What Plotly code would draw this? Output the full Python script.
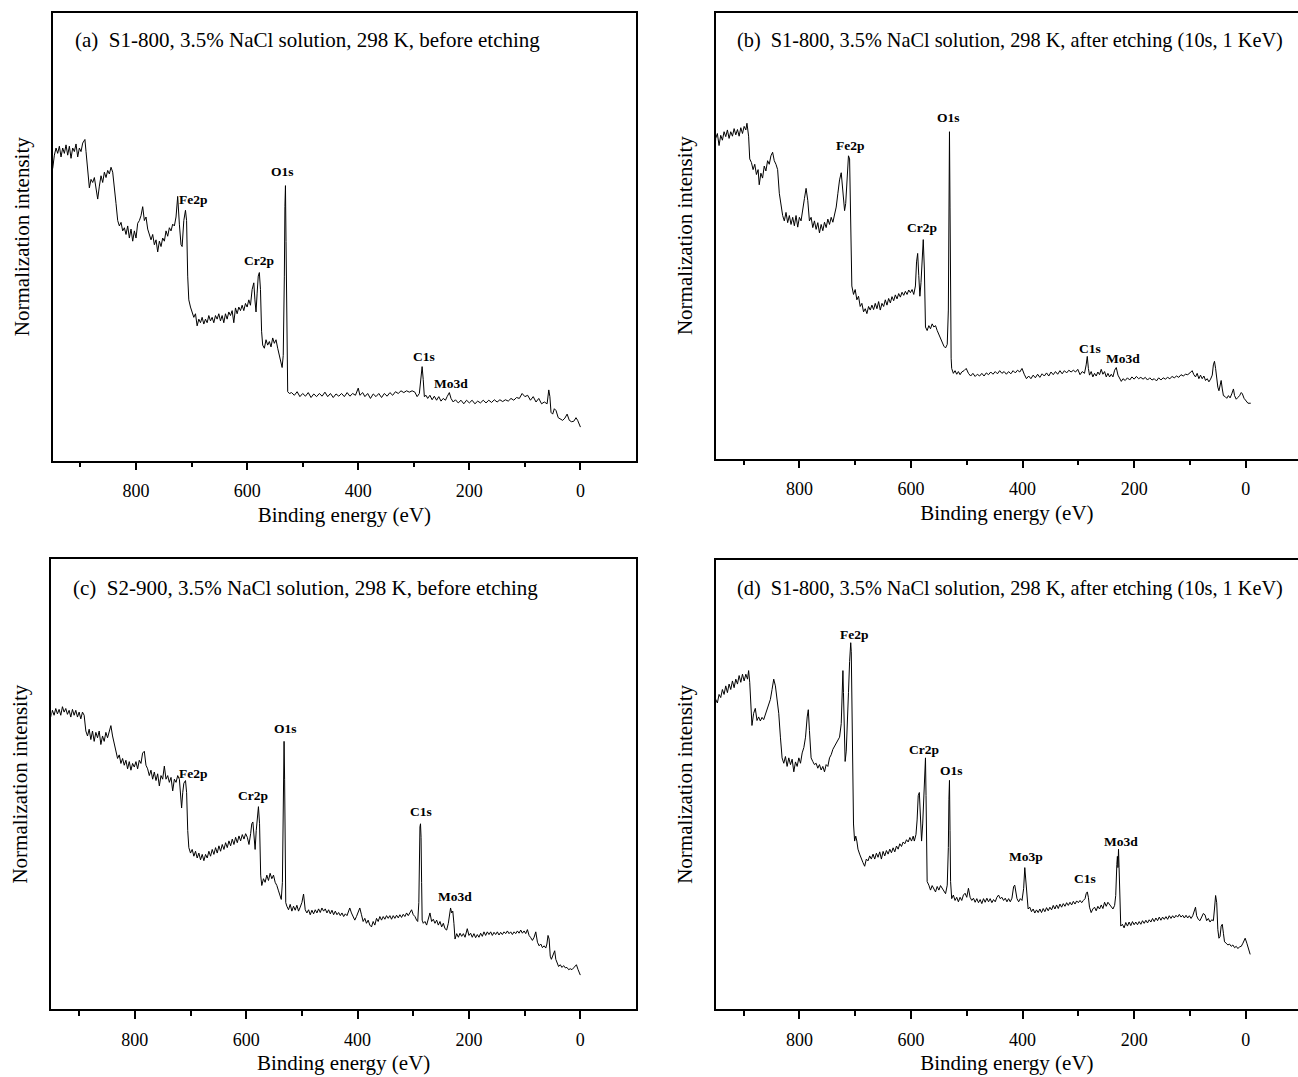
import plotly.graph_objects as go

# ---------------- data (binding energy eV, normalized intensity 0-100 of frame) ----------------
spec_a = [
(950,65.2),(947,68.2),(944,69.8),(941,68.6),(938,70.2),(935,67.8),(932,69.8),(929,68.6),(926,70.5),(923,68.2),
(920,70.2),(917,67.5),(914,69.8),(911,69.0),(908,70.7),(905,67.8),(902,69.8),(899,69.0),(896,70.9),(892,71.7),
(890,69.0),(887,64.4),(884,60.9),(881,62.8),(878,62.1),(875,63.2),(872,60.9),(869,58.4),(866,61.3),(863,63.6),
(860,62.1),(857,64.4),(854,63.2),(851,64.8),(848,64.0),(845,65.5),(842,64.4),(839,61.3),(836,57.4),(833,53.6),
(830,52.4),(827,53.2),(824,51.3),(821,52.0),(818,50.5),(815,52.4),(812,49.7),(809,51.7),(806,49.0),(803,51.3),
(800,49.7),(797,53.0),(794,53.6),(791,54.7),(788,56.7),(785,53.6),(782,54.4),(779,51.7),(776,50.5),(773,49.3),
(770,50.5),(767,48.2),(764,49.3),(761,46.6),(758,49.0),(755,47.8),(752,49.7),(749,49.0),(746,51.3),(743,50.1),
(740,52.0),(737,51.3),(734,52.8),(731,52.4),(728,54.4),(725,59.0),(722,52.8),(719,48.2),(717,47.8),(714,53.6),
(711,55.9),(709,53.6),(707,41.2),(705,35.9),(702,34.3),(699,33.2),(696,32.0),(693,32.8),(690,30.1),(687,31.6),
(684,30.8),(681,32.0),(678,30.5),(675,31.6),(672,30.8),(669,32.4),(666,31.2),(663,32.0),(660,30.8),(657,32.4),
(654,31.6),(651,32.8),(648,31.2),(645,32.4),(642,30.8),(639,32.8),(636,31.6),(633,33.2),(630,32.4),(627,33.5),
(624,30.8),(621,34.1),(618,32.8),(615,34.3),(612,33.5),(609,34.7),(606,33.5),(603,35.1),(600,34.3),(597,35.9),
(594,34.7),(591,38.2),(588,39.7),(586,35.9),(584,33.2),(582,37.4),(580,41.2),(578,42.0),(576,38.2),(574,28.9),
(572,25.8),(569,25.1),(566,27.0),(563,25.8),(560,26.6),(557,25.4),(554,27.4),(551,26.2),(548,27.0),(545,25.1),
(542,23.5),(539,22.0),(537,20.8),(535,23.5),(534,28.9),(533,41.2),(532,56.7),(531,61.4),(530,48.9),(529,33.5),
(528,19.7),(527,15.4),(524,15.0),(520,15.2),(515,14.6),(510,15.4),(505,14.3),(500,15.0),(495,14.4),(490,15.2),
(485,14.1),(480,14.9),(475,14.3),(470,15.0),(465,14.4),(460,15.3),(455,14.3),(450,15.0),(445,14.1),(440,14.9),
(435,14.4),(430,15.0),(425,14.3),(420,15.2),(415,14.4),(410,15.0),(405,14.6),(400,16.2),(397,14.6),(392,15.2),
(388,14.3),(383,15.0),(378,13.9),(373,14.9),(368,14.3),(363,15.0),(358,14.1),(353,15.0),(348,14.4),(343,15.2),
(338,14.6),(333,15.4),(328,15.0),(323,15.6),(318,15.2),(313,15.6),(308,15.3),(303,15.6),(298,15.3),(294,14.3),
(290,15.0),(287,18.9),(285,21.0),(283,18.1),(281,14.3),(278,14.6),(275,13.9),(271,14.6),(267,13.6),(263,14.4),
(259,13.5),(255,14.3),(251,13.3),(247,13.9),(243,13.5),(240,14.3),(236,15.2),(233,13.9),(229,13.1),(225,13.6),
(220,12.9),(215,13.5),(210,12.7),(205,13.5),(200,12.9),(195,13.5),(190,12.7),(185,13.3),(180,12.9),(175,13.5),
(170,12.9),(165,13.5),(160,13.0),(155,13.6),(150,13.1),(145,13.6),(140,13.2),(135,13.6),(130,13.3),(125,13.9),
(120,13.5),(115,14.1),(110,13.9),(105,15.0),(100,14.3),(95,14.6),(90,13.5),(85,14.3),(80,13.1),(75,13.9),
(70,12.7),(65,13.1),(60,12.7),(57,15.8),(55,14.3),(53,10.8),(50,10.4),(47,11.6),(44,11.2),(40,9.6),
(36,9.3),(32,9.0),(28,9.5),(24,10.4),(20,9.0),(16,8.7),(12,8.8),(8,9.6),(5,9.0),(2,8.1),(0,7.5),
]

spec_b = [
(952,67.5),(950,71.8),(947,72.9),(944,70.2),(941,72.5),(938,71.4),(935,73.3),(932,72.2),(929,73.7),(926,71.8),
(923,73.3),(920,72.3),(917,74.0),(914,72.6),(911,73.8),(908,72.3),(905,74.2),(902,72.9),(899,74.5),(896,73.7),
(894,75.2),(891,72.3),(889,67.2),(886,66.4),(883,64.8),(880,66.0),(877,63.7),(874,64.8),(872,61.4),(869,64.0),
(866,62.9),(863,65.6),(860,64.5),(857,66.8),(854,66.0),(851,67.9),(848,68.7),(845,66.8),(842,66.0),(839,64.8),
(836,59.5),(833,56.4),(830,54.5),(827,53.3),(824,55.2),(821,52.9),(818,54.5),(815,52.5),(812,54.1),(809,52.2),
(806,54.5),(803,51.9),(800,54.1),(797,53.3),(794,56.4),(791,58.3),(788,60.6),(785,57.9),(782,53.3),(779,54.1),
(776,51.8),(773,53.3),(770,51.4),(767,52.9),(764,50.6),(761,52.5),(758,51.1),(755,53.0),(752,51.8),(749,53.7),
(746,52.5),(743,54.1),(740,53.0),(737,54.8),(734,56.4),(731,59.5),(728,62.5),(725,64.1),(722,59.5),(719,55.6),
(717,57.2),(714,62.5),(712,67.9),(710,67.2),(708,56.4),(706,38.7),(703,36.8),(700,37.9),(697,35.6),(694,36.4),
(691,34.1),(688,34.8),(685,32.9),(682,33.6),(679,32.5),(676,34.1),(673,33.3),(670,34.4),(667,33.4),(664,34.8),
(661,33.6),(658,35.2),(655,33.3),(652,34.8),(649,34.1),(646,35.6),(643,34.4),(640,35.9),(637,34.9),(634,36.3),
(631,35.4),(628,36.7),(625,35.8),(622,37.0),(619,36.2),(616,37.3),(613,36.6),(610,37.5),(607,36.8),(604,37.8),
(601,37.2),(598,37.9),(595,36.8),(592,38.7),(590,44.1),(588,46.0),(586,41.0),(584,36.4),(582,39.5),(580,45.6),
(578,49.1),(576,42.5),(574,29.5),(571,28.7),(568,29.8),(565,29.1),(562,30.2),(559,29.5),(556,29.8),(553,28.7),
(550,27.9),(547,26.8),(544,26.0),(541,25.2),(538,24.8),(535,25.6),(533,33.3),(532,56.4),(531,73.3),(530,56.4),
(529,33.3),(528,22.5),(527,20.2),(524,19.1),(521,19.7),(518,18.9),(515,19.5),(512,18.8),(509,19.4),(505,19.7),
(501,20.2),(497,19.1),(493,18.5),(489,19.1),(485,18.4),(481,18.9),(477,18.5),(473,19.1),(469,18.5),(465,19.2),
(461,18.8),(457,19.4),(453,18.9),(449,19.5),(445,19.0),(441,19.7),(437,19.1),(433,19.5),(429,18.9),(425,19.5),
(421,19.0),(417,19.7),(413,19.2),(409,19.8),(405,19.4),(401,20.2),(397,18.9),(393,17.9),(389,18.5),(385,17.9),
(381,18.7),(377,18.1),(373,18.9),(369,18.2),(365,19.0),(361,18.5),(357,19.2),(353,18.5),(349,19.4),(345,18.8),
(341,19.5),(337,18.9),(333,19.7),(329,19.0),(325,19.7),(321,19.2),(317,19.8),(313,19.4),(309,19.8),(305,19.4),
(301,20.0),(297,18.8),(293,19.5),(289,19.1),(286,21.0),(284,22.9),(282,20.2),(280,18.7),(277,19.5),(274,18.3),
(271,19.1),(268,18.5),(265,19.4),(262,18.8),(259,20.0),(256,18.9),(253,19.5),(250,18.3),(247,19.1),(244,18.3),
(241,18.9),(238,18.3),(235,19.8),(232,20.4),(229,18.7),(226,17.9),(223,17.3),(220,17.9),(216,17.5),(212,18.1),
(208,17.6),(204,18.3),(200,17.8),(196,18.4),(192,17.9),(188,18.2),(184,17.8),(180,18.2),(176,17.6),(172,18.1),
(168,17.6),(164,17.9),(160,17.4),(156,18.1),(152,17.6),(148,18.1),(144,17.8),(140,18.2),(136,17.9),(132,18.4),
(128,18.1),(124,18.5),(120,18.2),(116,18.8),(112,18.5),(108,18.9),(104,18.8),(100,19.2),(96,19.7),(93,18.8),
(90,18.3),(87,19.1),(84,17.9),(81,18.7),(78,17.9),(75,18.5),(72,17.5),(69,17.9),(66,17.2),(63,17.8),
(60,18.7),(58,21.0),(56,21.8),(54,20.2),(52,17.9),(50,16.0),(48,15.2),(46,16.8),(44,17.5),(42,15.6),
(40,14.1),(37,13.9),(34,13.5),(31,14.1),(28,13.6),(25,14.5),(22,15.6),(20,14.1),(17,13.3),(14,13.7),
(11,14.1),(8,14.8),(6,14.5),(3,13.5),(0,12.9),(-4,12.4),(-9,12.4),
]

spec_c = [
(951,64.9),(948,66.4),(945,65.3),(942,66.8),(939,65.6),(936,66.6),(933,65.3),(930,67.2),(927,66.0),(924,66.8),
(921,65.5),(918,66.4),(915,64.9),(912,66.6),(909,65.3),(906,66.4),(903,64.9),(900,66.0),(897,64.5),(894,66.0),
(891,65.3),(888,61.8),(885,60.7),(882,62.2),(879,59.9),(876,61.8),(873,59.5),(870,61.5),(867,60.3),(864,61.8),
(861,58.8),(858,60.7),(855,59.5),(852,61.5),(849,60.3),(846,61.8),(843,63.0),(840,60.7),(837,58.8),(834,56.9),
(831,55.7),(828,56.5),(825,54.6),(822,55.7),(819,54.2),(816,55.3),(813,53.4),(810,55.0),(807,53.1),(804,54.6),
(801,53.8),(798,55.0),(795,53.4),(792,55.3),(789,54.6),(786,56.9),(783,57.3),(780,54.2),(777,53.4),(774,51.9),
(771,53.1),(768,51.1),(765,52.7),(762,50.8),(759,52.3),(756,49.6),(753,51.9),(750,51.1),(747,54.0),(744,51.1),
(741,51.9),(738,50.4),(735,51.5),(732,48.5),(729,51.1),(726,50.4),(723,51.9),(720,51.1),(718,46.6),(716,44.7),
(714,48.1),(712,50.2),(709,50.8),(707,48.1),(705,39.7),(703,35.9),(700,34.7),(697,35.5),(694,34.0),(691,35.1),
(688,33.6),(685,34.7),(682,33.2),(679,34.4),(676,33.0),(673,34.4),(670,33.6),(667,35.1),(664,34.0),(661,35.5),
(658,34.4),(655,35.9),(652,34.7),(649,36.3),(646,35.1),(643,36.6),(640,35.5),(637,37.0),(634,35.9),(631,37.4),
(628,36.3),(625,37.8),(622,36.6),(619,38.2),(616,37.0),(613,38.5),(610,37.4),(607,38.8),(604,37.8),(601,39.0),
(598,38.2),(595,36.6),(592,39.0),(590,41.2),(588,41.6),(586,38.2),(584,35.5),(582,39.7),(580,43.5),(578,45.0),
(576,41.2),(574,29.8),(572,27.5),(569,29.0),(566,28.2),(563,29.8),(560,28.6),(557,30.2),(554,29.0),(551,29.8),
(548,28.2),(545,27.5),(542,26.3),(539,24.8),(537,24.4),(535,28.2),(534,39.7),(533,55.0),(532,59.5),(531,51.1),
(530,35.9),(529,23.7),(527,22.9),(524,22.1),(521,23.3),(518,21.8),(515,22.9),(512,22.0),(509,23.1),(506,21.8),
(503,22.7),(500,23.7),(497,25.6),(494,22.1),(491,21.4),(488,22.1),(485,21.0),(482,22.0),(479,21.2),(476,22.1),
(473,21.4),(470,22.3),(467,21.5),(464,22.5),(461,21.8),(458,22.3),(455,21.4),(452,22.1),(449,21.2),(446,22.0),
(443,21.0),(440,21.8),(437,21.0),(434,21.5),(431,20.8),(428,21.4),(425,20.6),(422,21.2),(419,20.8),(416,21.8),
(414,22.5),(411,21.4),(408,20.6),(405,19.8),(402,20.6),(399,21.4),(396,22.5),(393,21.0),(390,19.5),(387,20.2),
(384,19.1),(381,19.8),(378,18.7),(375,18.3),(372,19.5),(369,18.7),(366,20.2),(363,19.5),(360,20.6),(357,19.8),
(354,20.6),(351,20.0),(348,20.8),(345,20.2),(342,20.8),(339,20.0),(336,20.8),(333,20.2),(330,20.9),(327,20.3),
(324,21.0),(321,20.4),(318,21.1),(315,20.6),(312,21.4),(309,20.8),(306,21.5),(303,22.1),(300,21.0),(297,20.6),
(294,19.8),(292,19.5),(290,23.7),(289,35.9),(288,40.5),(287,41.2),(286,38.2),(285,28.2),(284,19.8),(282,19.1),
(279,19.5),(276,18.7),(273,19.8),(270,21.4),(267,19.5),(264,20.0),(261,19.1),(258,19.8),(255,18.7),(252,19.5),
(249,18.3),(246,19.1),(243,17.9),(240,17.6),(237,19.1),(235,21.4),(233,22.5),(231,21.4),(229,21.8),(227,19.1),
(225,15.6),(222,16.8),(219,16.0),(216,16.9),(213,16.2),(210,16.8),(207,16.0),(203,17.9),(200,16.4),(197,16.9),
(194,16.0),(191,16.8),(188,15.9),(185,16.6),(182,16.0),(179,16.9),(176,16.2),(173,17.2),(170,16.4),(167,17.2),
(164,16.6),(161,17.2),(158,16.4),(155,17.1),(152,16.6),(149,17.2),(146,16.5),(143,17.1),(140,16.6),(137,17.2),
(134,16.8),(131,17.4),(128,16.8),(125,17.2),(122,16.6),(119,17.2),(116,16.8),(113,17.4),(110,16.9),(107,17.6),
(104,16.9),(101,17.4),(98,16.8),(95,17.7),(92,16.4),(89,15.9),(86,15.3),(83,16.0),(80,17.2),(77,14.9),
(74,14.1),(71,14.5),(68,13.7),(65,14.1),(62,13.6),(60,14.5),(58,16.4),(56,15.6),(54,11.8),(52,11.1),
(50,11.8),(48,12.6),(46,13.0),(44,11.1),(42,10.3),(39,9.5),(36,9.9),(33,9.3),(30,9.7),(27,9.2),
(24,9.3),(21,8.8),(18,9.0),(15,8.8),(12,9.2),(9,9.5),(7,9.9),(4,8.8),(2,8.2),(0,7.6),
]

spec_d = [
(952,66.9),(950,68.9),(947,68.1),(944,70.0),(941,69.3),(938,71.1),(935,70.0),(932,71.9),(929,70.4),(926,72.3),
(923,71.1),(920,73.0),(917,71.5),(914,73.4),(911,72.3),(908,74.2),(905,72.7),(902,74.5),(899,73.0),(896,74.5),
(893,73.4),(891,75.3),(889,72.7),(887,66.6),(885,63.1),(882,65.8),(879,66.9),(876,64.2),(873,65.0),(870,64.1),
(867,64.9),(864,64.4),(861,65.5),(858,66.3),(855,67.3),(852,68.9),(849,71.1),(846,73.4),(843,71.9),(840,69.3),
(837,65.8),(834,60.5),(831,55.9),(828,54.7),(825,56.2),(822,54.0),(819,55.9),(816,54.4),(813,55.6),(810,52.8),
(807,55.0),(804,54.0),(801,55.9),(798,54.7),(795,57.0),(792,58.2),(789,60.5),(786,65.0),(784,66.6),(782,62.0),
(779,55.9),(776,55.1),(773,54.4),(770,54.7),(767,53.6),(764,54.4),(761,53.2),(758,54.0),(755,52.8),(752,54.4),
(749,54.0),(746,55.9),(743,56.6),(740,57.8),(737,58.5),(734,58.9),(731,59.7),(728,60.5),(725,63.5),(723,72.7),
(722,75.3),(721,70.4),(719,58.9),(718,55.1),(716,57.4),(714,62.7),(712,70.4),(710,77.3),(708,81.5),(707,79.5),
(706,66.6),(705,51.3),(703,41.2),(701,37.4),(699,38.5),(697,37.4),(695,35.6),(692,34.5),(689,33.4),(686,32.6),
(683,31.8),(680,33.4),(677,33.0),(674,34.1),(671,33.4),(668,34.5),(665,33.4),(662,34.7),(659,33.8),(656,35.0),
(653,33.4),(650,35.1),(647,34.1),(644,35.3),(641,34.5),(638,35.6),(635,34.8),(632,35.9),(629,35.0),(626,36.3),
(623,35.6),(620,36.8),(617,36.2),(614,37.2),(611,36.8),(608,37.7),(605,37.2),(602,38.2),(599,37.4),(596,38.5),
(594,37.4),(591,38.9),(589,42.1),(587,47.5),(585,48.2),(583,43.7),(581,37.4),(579,41.2),(577,48.2),(575,55.1),
(574,55.9),(573,47.5),(572,36.0),(571,28.4),(568,27.6),(565,26.5),(562,27.5),(559,26.9),(556,26.1),(553,27.3),
(550,26.5),(547,27.5),(544,26.9),(541,26.1),(538,25.7),(535,27.6),(533,36.0),(532,46.7),(531,50.9),(530,39.8),
(529,28.4),(527,24.6),(524,25.4),(521,24.2),(518,24.9),(515,23.9),(512,24.9),(509,24.2),(506,25.4),(503,25.8),
(500,24.9),(497,26.9),(494,24.9),(491,24.2),(488,24.7),(485,23.8),(482,24.6),(479,23.7),(476,24.4),(473,23.5),
(470,24.6),(467,23.8),(464,24.7),(461,23.9),(458,24.6),(455,23.7),(452,24.4),(449,23.9),(446,24.9),(443,25.4),
(440,24.6),(437,24.9),(434,24.2),(431,24.7),(428,23.9),(425,24.6),(422,23.9),(419,24.7),(416,27.3),(414,27.6),
(412,26.1),(410,24.6),(407,23.9),(404,24.6),(401,24.2),(398,26.9),(396,31.5),(394,28.4),(392,24.6),(390,22.3),
(387,22.7),(384,21.7),(381,22.3),(378,21.4),(375,22.1),(372,21.5),(369,22.3),(366,21.5),(363,22.4),(360,21.7),
(357,22.6),(354,21.9),(351,22.7),(348,22.1),(345,23.1),(342,22.3),(339,23.2),(336,22.4),(333,23.4),(330,22.7),
(327,23.5),(324,22.9),(321,23.7),(318,23.1),(315,23.8),(312,23.2),(309,24.0),(306,23.4),(303,24.1),(300,23.7),
(297,24.2),(294,23.7),(291,24.2),(288,24.6),(286,25.7),(284,26.1),(282,24.9),(280,22.7),(277,21.5),(274,22.3),
(271,22.7),(268,21.9),(265,22.9),(262,22.3),(259,23.2),(256,22.4),(253,23.8),(250,22.9),(247,23.8),(244,23.2),
(241,22.7),(238,22.3),(235,23.1),(233,25.3),(231,32.2),(230,34.0),(229,31.5),(228,35.6),(227,31.5),(226,24.6),
(224,18.5),(221,18.9),(218,18.1),(215,19.3),(212,18.5),(209,19.4),(206,18.6),(203,19.5),(200,18.8),(197,19.4),
(194,18.8),(191,19.5),(188,18.9),(185,19.7),(182,19.1),(179,19.8),(176,19.2),(173,19.9),(170,19.4),(167,20.2),
(164,19.5),(161,20.3),(158,19.7),(155,20.5),(152,19.8),(149,20.5),(146,20.0),(143,20.6),(140,20.0),(137,20.8),
(134,20.2),(131,20.8),(128,20.3),(125,20.9),(122,20.5),(119,21.1),(116,20.5),(113,20.9),(110,20.3),(107,20.9),
(104,20.3),(101,20.8),(98,20.2),(95,20.8),(92,22.3),(90,22.7),(88,20.8),(85,20.0),(82,19.7),(79,20.5),
(76,21.3),(73,21.0),(70,19.7),(67,20.2),(64,19.4),(61,19.9),(58,19.7),(56,22.3),(54,25.3),(52,23.7),
(50,17.7),(48,15.8),(46,16.2),(44,18.5),(42,18.9),(40,16.9),(38,15.0),(35,14.7),(32,14.3),(29,14.5),
(26,14.0),(23,14.3),(20,13.7),(17,14.0),(14,13.5),(11,13.9),(8,14.0),(5,14.7),(3,15.4),(1,15.8),
(-2,14.7),(-5,13.1),(-8,12.2),
]

NB = "\u00a0"
panel_titles = [
    "(a)" + NB + " S1-800, 3.5% NaCl solution, 298 K, before etching",
    "(b)" + NB + " S1-800, 3.5% NaCl solution, 298 K, after etching (10s, 1 KeV)",
    "(c)" + NB + " S2-900, 3.5% NaCl solution, 298 K, before etching",
    "(d)" + NB + " S1-800, 3.5% NaCl solution, 298 K, after etching (10s, 1 KeV)",
]

# peak labels: (text, energy, intensity)
peaks_a = [("Fe2p", 696, 58.2), ("O1s", 537, 64.5), ("Cr2p", 579, 44.8), ("C1s", 282, 23.3), ("Mo3d", 233, 17.3)]
peaks_b = [("Fe2p", 709, 70.2), ("O1s", 533, 76.5), ("Cr2p", 581, 51.9), ("C1s", 280, 24.7), ("Mo3d", 220, 22.5)]
peaks_c = [("Fe2p", 695, 52.3), ("O1s", 530, 62.4), ("Cr2p", 588, 47.5), ("C1s", 287, 44.0), ("Mo3d", 225, 25.0)]
peaks_d = [("Fe2p", 702, 83.4), ("Cr2p", 576, 57.8), ("O1s", 527, 53.2), ("Mo3p", 393, 33.9),
           ("C1s", 288, 29.0), ("Mo3d", 223, 37.4)]

tick_values = [800, 600, 400, 200, 0]
tick_text = ["800", "600", "400", "200", "0"]

# ---------------- layout geometry (pixels of 1298 x 1077 page) ----------------
W, H = 1298, 1077
SERIF = "Liberation Serif, Times New Roman, serif"

def px_x(p):
    return p / W

def px_y(p):
    return 1 - p / H

panels = [
    dict(x0=52.7, x1=636.0, yt=12.7, yb=460.7, xr=[950, -100], mir=True, tx=73, ty=40, ts=21),
    dict(x0=715.7, x1=1298.0, yt=12.7, yb=458.5, xr=[950, -93.7], mir=False, tx=735, ty=40, ts=20.3),
    dict(x0=51.3, x1=636.0, yt=559.0, yb=1009.3, xr=[950, -100], mir=True, tx=71.4, ty=588, ts=21),
    dict(x0=715.7, x1=1298.0, yt=559.5, yb=1009.3, xr=[950, -93.7], mir=False, tx=735, ty=588, ts=20.3),
]
specs = [spec_a, spec_b, spec_c, spec_d]
peaks = [peaks_a, peaks_b, peaks_c, peaks_d]

fig = go.Figure()
annotations = []
layout_axes = {}

for i, (p, spec, pk, title) in enumerate(zip(panels, specs, peaks, panel_titles)):
    n = "" if i == 0 else str(i + 1)
    xa, ya = "x" + n, "y" + n
    energy = [e for e, _ in spec]
    inten = [v for _, v in spec]
    fig.add_trace(go.Scatter(x=energy, y=inten, mode="lines", xaxis=xa, yaxis=ya,
                             line=dict(color="black", width=1.0), showlegend=False,
                             hoverinfo="skip"))
    layout_axes["xaxis" + n] = dict(
        domain=[px_x(p["x0"]), px_x(p["x1"])], range=p["xr"], anchor=ya,
        tickmode="array", tickvals=tick_values, ticktext=tick_text,
        ticks="outside", ticklen=8, tickwidth=1.5, tickcolor="black",
        minor=dict(tickmode="array", tickvals=[900, 700, 500, 300, 100],
                   ticks="outside", ticklen=4.5, tickwidth=1.5, tickcolor="black", showgrid=False),
        showline=True, linewidth=1.5, linecolor="black", mirror=True,
        showgrid=False, zeroline=False, automargin=False,
        tickfont=dict(family=SERIF, size=18, color="black"),
        ticklabelstandoff=5,
        title=dict(text="Binding energy (eV)", font=dict(family=SERIF, size=21, color="black"), standoff=7),
    )
    layout_axes["yaxis" + n] = dict(
        domain=[px_y(p["yb"]), px_y(p["yt"])], range=[0, 100], anchor=xa,
        showline=True, linewidth=1.5, linecolor="black", mirror=p["mir"],
        ticks="", showticklabels=False, showgrid=False, zeroline=False, automargin=False,
        title=dict(text="Normalization intensity", font=dict(family=SERIF, size=21, color="black"), standoff=16),
    )
    annotations.append(dict(text=title, xref="paper", yref="paper", x=px_x(p["tx"]), y=px_y(p["ty"]),
                            xanchor="left", yanchor="middle", showarrow=False,
                            font=dict(family=SERIF, size=p["ts"], color="black")))
    for txt, e, v in pk:
        annotations.append(dict(text="<b>" + txt + "</b>", xref=xa, yref=ya, x=e, y=v,
                                xanchor="center", yanchor="middle", showarrow=False,
                                font=dict(family=SERIF, size=13.5, color="black")))

fig.update_layout(
    width=W, height=H, margin=dict(l=0, r=0, t=0, b=0, autoexpand=False),
    paper_bgcolor="white", plot_bgcolor="white",
    annotations=annotations, **layout_axes,
)

fig.write_html("out.html")
